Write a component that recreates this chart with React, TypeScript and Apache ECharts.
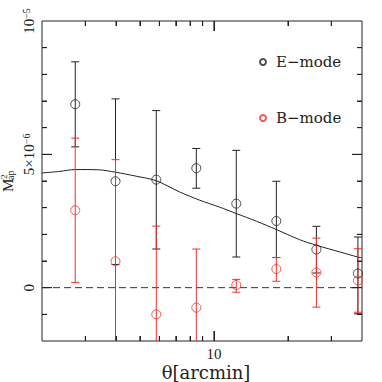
import React, { useEffect, useRef } from 'react';
import * as echarts from 'echarts';

// angular scale theta [arcmin]
const theta = [2.73, 3.98, 5.83, 8.48, 12.33, 17.94, 26.1, 38.5];
// values in units of 1e-6
const eMode = [6.88, 3.99, 4.05, 4.48, 3.15, 2.5, 1.43, 0.53];
const eLow = [5.28, 0.87, 1.45, 3.73, 1.15, 1.13, 0.55, -0.98];
const eHigh = [8.47, 7.08, 6.64, 5.22, 5.15, 3.99, 2.3, 1.9];
const bMode = [2.9, 0.99, -1.0, -0.75, 0.1, 0.7, 0.57, 0.27];
const bLow = [0.2, -2.84, -4.31, -2.95, -0.17, 0.24, -0.73, -0.92];
const bHigh = [5.61, 4.8, 2.31, 1.45, 0.31, 1.13, 1.86, 1.46];
const curveTheta = [2.0, 2.36, 2.73, 3.4, 3.98, 4.83, 5.83, 7.25, 8.75, 10.55, 12.33, 14.9, 17.94, 22.3, 26.1, 32.5, 38.4, 40];
const curveValue = [4.3, 4.36, 4.43, 4.42, 4.33, 4.18, 4.01, 3.59, 3.28, 3.02, 2.78, 2.49, 2.18, 1.8, 1.59, 1.34, 1.15, 1.12];
const xRange = [2, 40];
const yRange = [-2, 10];
const xMinorTicks = [3, 4, 5, 6, 7, 8, 9, 20, 30];
const xMajorTicks = [10];
const yMinorTicks = [-1, 1, 2, 3, 4, 6, 7, 8, 9];
const yMajorTicks = [0, 5];
const xLabelValues = [10];
const yLabelValues = [0, 5, 10];
const yTickLabels: Record<string, string> = { '0': '0', '5': '{n|5×10}{s|−6}', '10': '{n|10}{s|−5}' };
const seriesNames = ['E−mode', 'B−mode'];

const BLACK = '#222';
const RED = '#ff2a2a';
const NUM_FONT = 'Liberation Serif';
const WORD_FONT = 'DejaVu Serif';
const MINOR_LEN = 5;
const MAJOR_LEN = 10;

function errorBarSeries(name: string, lo: number[], hi: number[], color: string) {
  return {
    name,
    type: 'custom',
    coordinateSystem: 'cartesian2d',
    clip: true,
    encode: { x: 0, y: [1, 2] },
    data: theta.map((t, i) => [t, lo[i], hi[i]]),
    renderItem: (_p: any, api: any) => {
      const x = api.value(0);
      const a = api.coord([x, api.value(1)]);
      const b = api.coord([x, api.value(2)]);
      const cap = 4;
      const style = { stroke: color, lineWidth: 1 };
      return {
        type: 'group',
        children: [
          { type: 'line', shape: { x1: a[0], y1: a[1], x2: b[0], y2: b[1] }, style },
          { type: 'line', shape: { x1: a[0] - cap, y1: a[1], x2: a[0] + cap, y2: a[1] }, style },
          { type: 'line', shape: { x1: b[0] - cap, y1: b[1], x2: b[0] + cap, y2: b[1] }, style },
        ],
      };
    },
    z: 3,
  };
}

// helper axes that only draw inward ticks on a frame side
function xTickAxis(position: 'bottom' | 'top', ticks: number[], len: number) {
  return {
    type: 'log',
    logBase: 10,
    position,
    min: xRange[0],
    max: xRange[1],
    axisLine: { show: false, onZero: false },
    splitLine: { show: false },
    axisLabel: { show: false },
    axisTick: { show: true, inside: true, length: len, customValues: ticks, lineStyle: { color: BLACK, width: 1 } },
  };
}
function yTickAxis(position: 'left' | 'right', ticks: number[], len: number) {
  return {
    type: 'value',
    position,
    min: yRange[0],
    max: yRange[1],
    interval: 1,
    axisLine: { show: false, onZero: false },
    splitLine: { show: false },
    axisLabel: { show: false },
    axisTick: { show: true, inside: true, length: len, customValues: ticks, lineStyle: { color: BLACK, width: 1 } },
  };
}

// the same frame ticks, placed through the chart's own scales (convertToPixel)
function buildTicks(chart: any) {
  const px = (x: number, y: number) => chart.convertToPixel({ xAxisIndex: 0, yAxisIndex: 0 }, [x, y]) as number[];
  const style = { stroke: BLACK, lineWidth: 1 };
  const out: any[] = [];
  const ok = (p: any) => p && isFinite(p[0]) && isFinite(p[1]);
  const addX = (v: number, len: number) => {
    const b = px(v, yRange[0]);
    const t = px(v, yRange[1]);
    if (!ok(b) || !ok(t)) return;
    out.push({ type: 'line', silent: true, z: 100, shape: { x1: b[0], y1: b[1], x2: b[0], y2: b[1] - len }, style: { ...style } });
    out.push({ type: 'line', silent: true, z: 100, shape: { x1: t[0], y1: t[1], x2: t[0], y2: t[1] + len }, style: { ...style } });
  };
  const addY = (v: number, len: number) => {
    const l = px(xRange[0], v);
    const r = px(xRange[1], v);
    if (!ok(l) || !ok(r)) return;
    out.push({ type: 'line', silent: true, z: 100, shape: { x1: l[0], y1: l[1], x2: l[0] + len, y2: l[1] }, style: { ...style } });
    out.push({ type: 'line', silent: true, z: 100, shape: { x1: r[0], y1: r[1], x2: r[0] - len, y2: r[1] }, style: { ...style } });
  };
  xMinorTicks.forEach((v) => addX(v, MINOR_LEN));
  xMajorTicks.forEach((v) => addX(v, MAJOR_LEN));
  yMinorTicks.forEach((v) => addY(v, MINOR_LEN));
  yMajorTicks.forEach((v) => addY(v, MAJOR_LEN));
  return out;
}

const yTitle = {
  type: 'group',
  x: 7.7,
  y: 192,
  rotation: Math.PI / 2,
  children: [
    { type: 'text', x: 0, y: 0, style: { text: 'M', fontFamily: NUM_FONT, fontSize: 15, fill: BLACK, align: 'left', verticalAlign: 'middle' } },
    { type: 'text', x: 13, y: -3.5, style: { text: '2', fontFamily: NUM_FONT, fontSize: 9, fill: BLACK, align: 'left', verticalAlign: 'middle' } },
    { type: 'text', x: 12, y: 3, style: { text: 'ap', fontFamily: NUM_FONT, fontSize: 10, fill: BLACK, align: 'left', verticalAlign: 'middle' } },
  ],
};

export default function App() {
  const ref = useRef<HTMLDivElement>(null);
  useEffect(() => {
    if (!ref.current) return;
    const chart = echarts.init(ref.current, undefined, { renderer: 'svg' });
    chart.setOption({
      animation: false,
      grid: {
        left: 42,
        right: 20,
        top: 21,
        bottom: 41,
        show: true,
        borderColor: BLACK,
        borderWidth: 1,
        backgroundColor: 'transparent',
        containLabel: false,
        outerBoundsMode: 'none',
      },
      legend: {
        orient: 'vertical',
        left: 254,
        top: 44,
        itemWidth: 6,
        itemHeight: 6,
        itemGap: 30,
        data: seriesNames,
        textStyle: {
          fontFamily: WORD_FONT,
          fontSize: 15,
          lineHeight: 16,
          color: BLACK,
          padding: [10, 0, 0, 5],
        },
      },
      xAxis: [
        {
          type: 'log',
          logBase: 10,
          position: 'bottom',
          min: xRange[0],
          max: xRange[1],
          axisLine: { show: false, onZero: false },
          splitLine: { show: false },
          axisTick: { show: true, inside: true, length: MINOR_LEN, customValues: xMinorTicks, lineStyle: { color: BLACK, width: 1 } },
          axisLabel: {
            customValues: xLabelValues,
            margin: 6,
            fontFamily: NUM_FONT,
            fontSize: 15,
            lineHeight: 14,
            color: BLACK,
            formatter: (v: number) => String(Math.round(v)),
          },
          name: 'θ[arcmin]',
          nameLocation: 'middle',
          nameGap: 23,
          nameMoveOverlap: false,
          nameTextStyle: {
            fontFamily: WORD_FONT,
            fontSize: 18,
            lineHeight: 16,
            color: BLACK,
            padding: [0, 0, 0, 8],
          },
        },
        xTickAxis('bottom', xMajorTicks, MAJOR_LEN),
        xTickAxis('top', xMinorTicks, MINOR_LEN),
        xTickAxis('top', xMajorTicks, MAJOR_LEN),
      ],
      yAxis: [
        {
          type: 'value',
          position: 'left',
          min: yRange[0],
          max: yRange[1],
          interval: 1,
          axisLine: { show: false, onZero: false },
          splitLine: { show: false },
          axisTick: { show: true, inside: true, length: MINOR_LEN, customValues: yMinorTicks, lineStyle: { color: BLACK, width: 1 } },
          axisLabel: {
            customValues: yLabelValues,
            rotate: 90,
            margin: 5,
            fontFamily: NUM_FONT,
            fontSize: 15,
            lineHeight: 16,
            color: BLACK,
            formatter: (v: number) => yTickLabels[String(Math.round(v))] || '',
            rich: {
              n: { fontFamily: NUM_FONT, fontSize: 15, lineHeight: 16, color: BLACK },
              s: { fontFamily: NUM_FONT, fontSize: 10, lineHeight: 10, color: BLACK, verticalAlign: 'top' },
            },
          },
        },
        yTickAxis('left', yMajorTicks, MAJOR_LEN),
        yTickAxis('right', yMinorTicks, MINOR_LEN),
        yTickAxis('right', yMajorTicks, MAJOR_LEN),
      ],
      graphic: [yTitle],
      series: [
        {
          type: 'line',
          data: [[xRange[0], 0], [xRange[1], 0]],
          showSymbol: false,
          silent: true,
          lineStyle: { color: '#333', width: 1, type: [7, 4] },
          z: 1,
        },
        {
          type: 'line',
          data: curveTheta.map((t, i) => [t, curveValue[i]]),
          showSymbol: false,
          smooth: 0.3,
          silent: true,
          lineStyle: { color: BLACK, width: 1 },
          z: 2,
        },
        errorBarSeries('E-err', eLow, eHigh, BLACK),
        {
          name: seriesNames[0],
          type: 'scatter',
          symbol: 'circle',
          symbolSize: 9,
          data: theta.map((t, i) => [t, eMode[i]]),
          itemStyle: { color: 'transparent', borderColor: BLACK, borderWidth: 1 },
          z: 4,
        },
        errorBarSeries('B-err', bLow, bHigh, RED),
        {
          name: seriesNames[1],
          type: 'scatter',
          symbol: 'circle',
          symbolSize: 9,
          data: theta.map((t, i) => [t, bMode[i]]),
          itemStyle: { color: 'transparent', borderColor: RED, borderWidth: 1 },
          z: 4,
        },
      ],
    });
    try {
      chart.setOption({ graphic: [yTitle, ...buildTicks(chart)] }, { replaceMerge: ['graphic'] });
    } catch (e) {
      // keep the chart even if tick placement fails
    }
    return () => chart.dispose();
  }, []);
  return (
    <div
      ref={ref}
      style={{ position: 'fixed', left: 0, top: 0, width: 382, height: 382, background: '#fff' }}
    />
  );
}
